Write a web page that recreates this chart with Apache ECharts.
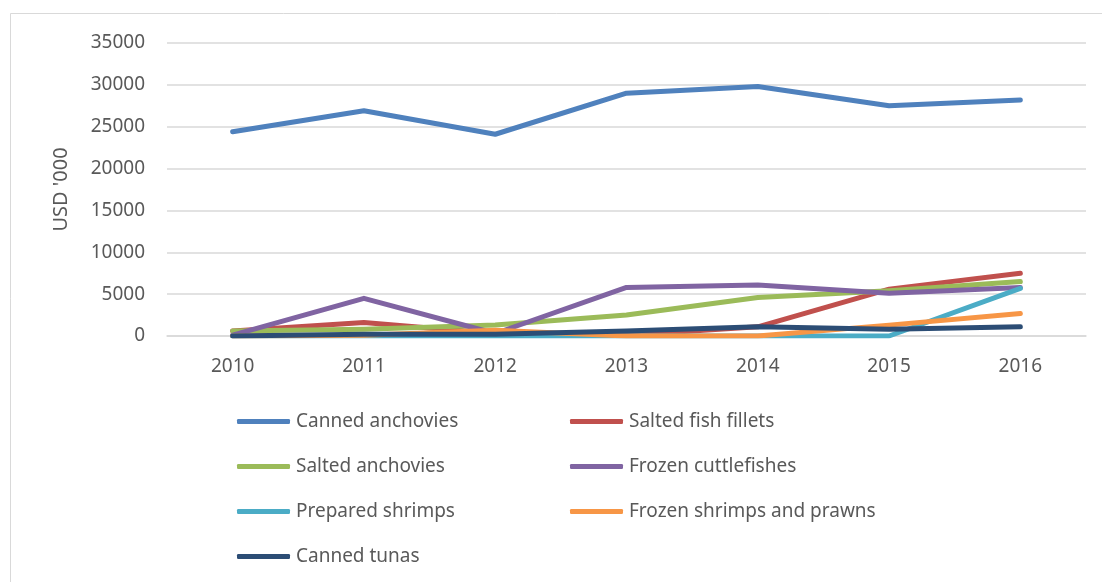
<!DOCTYPE html>
<html>
<head>
<meta charset="utf-8">
<script src="https://cdn.jsdelivr.net/npm/echarts@6/dist/echarts.min.js"></script>
<style>
  html, body { margin: 0; padding: 0; background: #fff; }
  #chart { width: 1102px; height: 582px; }
</style>
</head>
<body>
<div id="chart"></div>
<script>
// Export values by product, USD '000
const years = ['2010', '2011', '2012', '2013', '2014', '2015', '2016'];
const cannedAnchovies = [24400, 26900, 24100, 29000, 29800, 27500, 28200];
const saltedFishFillets = [600, 1600, 300, 100, 1100, 5600, 7500];
const saltedAnchovies = [600, 800, 1300, 2500, 4600, 5400, 6500];
const frozenCuttlefishes = [100, 4500, 300, 5800, 6100, 5100, 5800];
const preparedShrimps = [0, 0, 0, 0, 0, 0, 5700];
const frozenShrimpsPrawns = [0, 100, 700, 0, 0, 1300, 2700];
const cannedTunas = [0, 200, 200, 600, 1100, 800, 1100];
const yTicks = [0, 5000, 10000, 15000, 20000, 25000, 30000, 35000];

const seriesDefs = [
  ['Canned anchovies', cannedAnchovies, '#4F81BD'],
  ['Salted fish fillets', saltedFishFillets, '#C0504D'],
  ['Salted anchovies', saltedAnchovies, '#9BBB59'],
  ['Frozen cuttlefishes', frozenCuttlefishes, '#8064A2'],
  ['Prepared shrimps', preparedShrimps, '#4BACC6'],
  ['Frozen shrimps and prawns', frozenShrimpsPrawns, '#F79646'],
  ['Canned tunas', cannedTunas, '#2C4D75']
];

const font = 'Noto Sans, sans-serif';
const textColor = '#595959';

const legendCommon = {
  orient: 'vertical',
  icon: 'roundRect',
  itemWidth: 53,
  itemHeight: 5,
  itemGap: 26,
  height: 200,
  padding: 0,
  textStyle: { fontFamily: font, fontSize: 19, color: textColor, padding: [0, 0, 0, 1] }
};

const chart = echarts.init(document.getElementById('chart'), null, { renderer: 'canvas' });
chart.setOption({
  animation: false,
  backgroundColor: '#ffffff',
  graphic: [{
    type: 'rect',
    shape: { x: 10.5, y: 13.5, width: 1100, height: 580 },
    style: { fill: 'none', stroke: '#d9d9d9', lineWidth: 1 }
  }],
  grid: { left: 167, right: 16, top: 43, bottom: 246 },
  legend: [
    Object.assign({ left: 237, top: 412, data: [seriesDefs[0][0], seriesDefs[2][0], seriesDefs[4][0], seriesDefs[6][0]] }, legendCommon),
    Object.assign({ left: 570, top: 412, data: [seriesDefs[1][0], seriesDefs[3][0], seriesDefs[5][0]] }, legendCommon)
  ],
  xAxis: {
    type: 'category',
    data: years,
    boundaryGap: true,
    axisLine: { lineStyle: { color: '#d9d9d9', width: 1.5 } },
    axisTick: { show: false },
    axisLabel: { fontFamily: font, fontSize: 19, color: textColor, margin: 21 }
  },
  yAxis: {
    type: 'value',
    min: yTicks[0],
    max: yTicks[yTicks.length - 1],
    interval: yTicks[1] - yTicks[0],
    name: "USD '000",
    nameLocation: 'middle',
    nameGap: 96,
    nameTextStyle: { fontFamily: font, fontSize: 20, color: textColor },
    axisLine: { show: false },
    axisTick: { show: false },
    axisLabel: { fontFamily: font, fontSize: 19, color: textColor, margin: 22, formatter: v => String(v) },
    splitLine: { lineStyle: { color: '#d9d9d9', width: 1.5 } }
  },
  series: seriesDefs.map(([name, data, color]) => ({
    name: name,
    type: 'line',
    data: data,
    symbol: 'none',
    lineStyle: { width: 5, color: color, cap: 'round', join: 'round' },
    itemStyle: { color: color }
  }))
});
</script>
</body>
</html>
